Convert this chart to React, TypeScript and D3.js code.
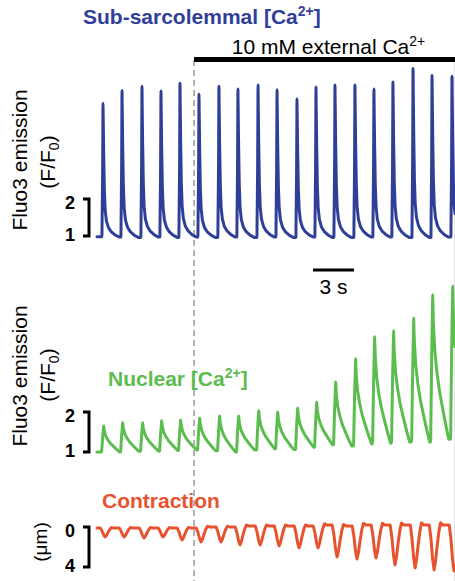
import React, { useEffect, useMemo } from 'react'
import * as d3 from 'd3'

// beat times (s)
const beatTimes = [0.44, 1.83, 3.29, 4.68, 6.07, 7.46, 8.92, 10.31, 11.78, 13.17, 14.63, 16.02, 17.41, 18.87, 20.26, 21.65, 23.12, 24.51, 25.97]

// sub-sarcolemmal F/F0 peaks and resting levels (rest[i] = level before beat i)
const subPeaks = [4.59, 4.93, 5.05, 4.92, 5.13, 4.84, 5.05, 4.97, 5.08, 4.95, 4.71, 5.03, 5.08, 5.08, 4.97, 5.16, 5.53, 5.34, 5.32]
const subRest = [0.98, 0.97, 0.96, 0.97, 0.96, 0.97, 0.96, 0.97, 0.96, 0.97, 0.96, 0.97, 0.96, 0.96, 0.97, 0.97, 0.96, 0.96, 0.97, 0.97]

// nuclear F/F0
const nucPeaks = [1.65, 1.73, 1.73, 1.78, 1.8, 1.85, 1.9, 1.9, 2.03, 2.0, 2.1, 2.25, 2.75, 3.33, 3.88, 4.03, 4.35, 4.93, 5.15]
const nucRest = [1.0, 1.0, 1.02, 1.02, 1.04, 1.05, 1.03, 1.0, 1.05, 1.08, 1.06, 1.12, 1.18, 1.15, 1.2, 1.22, 1.25, 1.25, 1.32, 1.35]

// contraction: shortening depth (um) and resting level
const cellDips = [1.0, 1.0, 1.1, 1.0, 1.3, 1.5, 1.5, 1.8, 1.8, 1.9, 2.1, 2.1, 3.0, 3.2, 3.1, 3.8, 4.1, 4.3, 4.4]
const cellRest = [0.1, 0.1, 0.1, 0.1, 0.1, 0.1, 0.0, 0.0, -0.1, -0.1, -0.1, -0.1, -0.2, -0.1, -0.2, -0.2, -0.2, -0.2, -0.2, -0.2]

// transient shapes: time from beat (s) and fraction of amplitude
const subShapeT = [-0.08, -0.03, 0, 0.05, 0.1, 0.16, 0.25, 0.4, 0.6, 0.9, 1.2]
const subShapeK = [0, 0.45, 1, 0.62, 0.35, 0.2, 0.12, 0.07, 0.04, 0.015, 0]
const nucShapeT = [-0.1, -0.03, 0.05, 0.1, 0.2, 0.35, 0.55, 0.8, 1.0, 1.22]
const nucShapeK = [0, 0.55, 1, 0.8, 0.62, 0.47, 0.33, 0.2, 0.1, 0]
const cellShapeT = [-0.2, -0.08, 0.04, 0.15, 0.26, 0.38, 0.5, 0.62, 0.8]
const cellShapeK = [0, 0.3, 0.75, 1, 0.8, 0.45, 0.15, -0.05, 0]

const calciumOn = 7.1 // s, 10 mM switch
const recordEnd = 26.19
const scaleBarStart = 15.8
const scaleBarLen = 3

const W = 455
const H = 581
const BLUE = '#2f3f98'
const GREEN = '#5cbd4f'
const RED = '#e8532f'
const FONT = 'Liberation Sans, Arial, Helvetica, sans-serif'

function buildTrace(peaks: number[], rests: number[], shapeT: number[], shapeK: number[]) {
  const shape = d3.scaleLinear().domain(shapeT).range(shapeK).clamp(true)
  const tPeak = shapeT[shapeK.indexOf(1)]
  const t0 = shapeT[0]
  const t1 = shapeT[shapeT.length - 1]
  const pts: [number, number][] = []
  for (let n = 0; n <= Math.round(recordEnd * 100); n++) {
    const t = n / 100
    let v: number | null = null
    for (let i = 0; i < beatTimes.length; i++) {
      const tau = t - beatTimes[i]
      if (tau >= t0 && tau <= t1) {
        const base = tau < tPeak ? rests[i] : rests[i + 1]
        v = base + (peaks[i] - base) * shape(tau)
        break
      }
    }
    if (v === null) v = rests[d3.bisectLeft(beatTimes, t)]
    pts.push([t, v])
  }
  return pts
}

function Bracket({ y, top, bottom, labels }: { y: d3.ScaleLinear<number, number>; top: number; bottom: number; labels: string[] }) {
  const y1 = y(top)
  const y2 = y(bottom)
  const a = Math.min(y1, y2)
  const b = Math.max(y1, y2)
  return (
    <g>
      <path d={`M83,${a} H89 V${b} H83`} fill="none" stroke="#000" strokeWidth={3} />
      <text x={70} y={a + 10} textAnchor="middle" fontSize={18} fontWeight="bold" fontFamily={FONT}>{labels[0]}</text>
      <text x={70} y={b + 5} textAnchor="middle" fontSize={18} fontWeight="bold" fontFamily={FONT}>{labels[1]}</text>
    </g>
  )
}

export default function App() {
  useEffect(() => {
    document.body.style.margin = '0'
  }, [])

  const x = d3.scaleLinear().domain([0, recordEnd]).range([97, 455])
  const ySub = d3.scaleLinear().domain([1, 2]).range([236, 199])
  const yNuc = d3.scaleLinear().domain([1, 2]).range([452, 412])
  const yCell = d3.scaleLinear().domain([0, 4]).range([527, 567])

  const paths = useMemo(() => {
    const mk = (yy: d3.ScaleLinear<number, number>) =>
      d3.line<[number, number]>().x(d => x(d[0])).y(d => yy(d[1])).curve(d3.curveMonotoneX)
    return {
      sub: mk(ySub)(buildTrace(subPeaks, subRest, subShapeT, subShapeK)) || '',
      nuc: mk(yNuc)(buildTrace(nucPeaks, nucRest, nucShapeT, nucShapeK)) || '',
      cell: mk(yCell)(buildTrace(cellDips, cellRest, cellShapeT, cellShapeK)) || '',
    }
  }, [])

  const xOn = x(calciumOn)

  return (
    <svg width={W} height={H} style={{ position: 'absolute', left: 0, top: 0, background: '#fff' }} fontFamily={FONT}>
      <rect width={W} height={H} fill="#fff" />
      {/* switch marker */}
      <line x1={xOn} x2={xOn} y1={60} y2={H} stroke="#9a9a9a" strokeWidth={1.5} strokeDasharray="6,4" />
      <line x1={454.5} x2={454.5} y1={62} y2={H} stroke="#e4e4e4" strokeWidth={1} />
      <rect x={xOn} y={57} width={W - xOn} height={5} fill="#000" />
      <text x={(xOn + W) / 2 + 4} y={54} textAnchor="middle" fontSize={21}>
        10 mM external Ca<tspan dy={-8} fontSize={14}>2+</tspan>
      </text>

      <text x={83} y={24} fontSize={21} fontWeight="bold" fill={BLUE}>
        Sub-sarcolemmal [Ca<tspan dy={-8} fontSize={14}>2+</tspan><tspan dy={8}>]</tspan>
      </text>
      <text x={108} y={386} fontSize={21} fontWeight="bold" fill={GREEN}>
        Nuclear [Ca<tspan dy={-8} fontSize={14}>2+</tspan><tspan dy={8}>]</tspan>
      </text>
      <text x={102} y={508} fontSize={21} fontWeight="bold" fill={RED}>Contraction</text>

      {/* y titles */}
      <text transform="translate(27,160) rotate(-90)" textAnchor="middle" fontSize={21}>Fluo3 emission</text>
      <text transform="translate(55,162) rotate(-90)" textAnchor="middle" fontSize={21}>
        (F/F<tspan dy={4} fontSize={14}>0</tspan><tspan dy={-4}>)</tspan>
      </text>
      <text transform="translate(27,376) rotate(-90)" textAnchor="middle" fontSize={21}>Fluo3 emission</text>
      <text transform="translate(55,375) rotate(-90)" textAnchor="middle" fontSize={21}>
        (F/F<tspan dy={4} fontSize={14}>0</tspan><tspan dy={-4}>)</tspan>
      </text>
      <text transform="translate(47,542) rotate(-90)" textAnchor="middle" fontSize={19}>(μm)</text>

      <Bracket y={ySub} top={2} bottom={1} labels={['2', '1']} />
      <Bracket y={yNuc} top={2} bottom={1} labels={['2', '1']} />
      <Bracket y={yCell} top={0} bottom={4} labels={['0', '4']} />

      {/* time scale bar */}
      <line x1={x(scaleBarStart)} x2={x(scaleBarStart + scaleBarLen)} y1={270} y2={270} stroke="#000" strokeWidth={3} />
      <text x={x(scaleBarStart + scaleBarLen / 2)} y={294} textAnchor="middle" fontSize={21}>3 s</text>

      <path d={paths.sub} fill="none" stroke={BLUE} strokeWidth={3} strokeLinejoin="round" strokeLinecap="round" />
      <path d={paths.nuc} fill="none" stroke={GREEN} strokeWidth={3} strokeLinejoin="round" strokeLinecap="round" />
      <path d={paths.cell} fill="none" stroke={RED} strokeWidth={3} strokeLinejoin="round" strokeLinecap="round" />
    </svg>
  )
}
